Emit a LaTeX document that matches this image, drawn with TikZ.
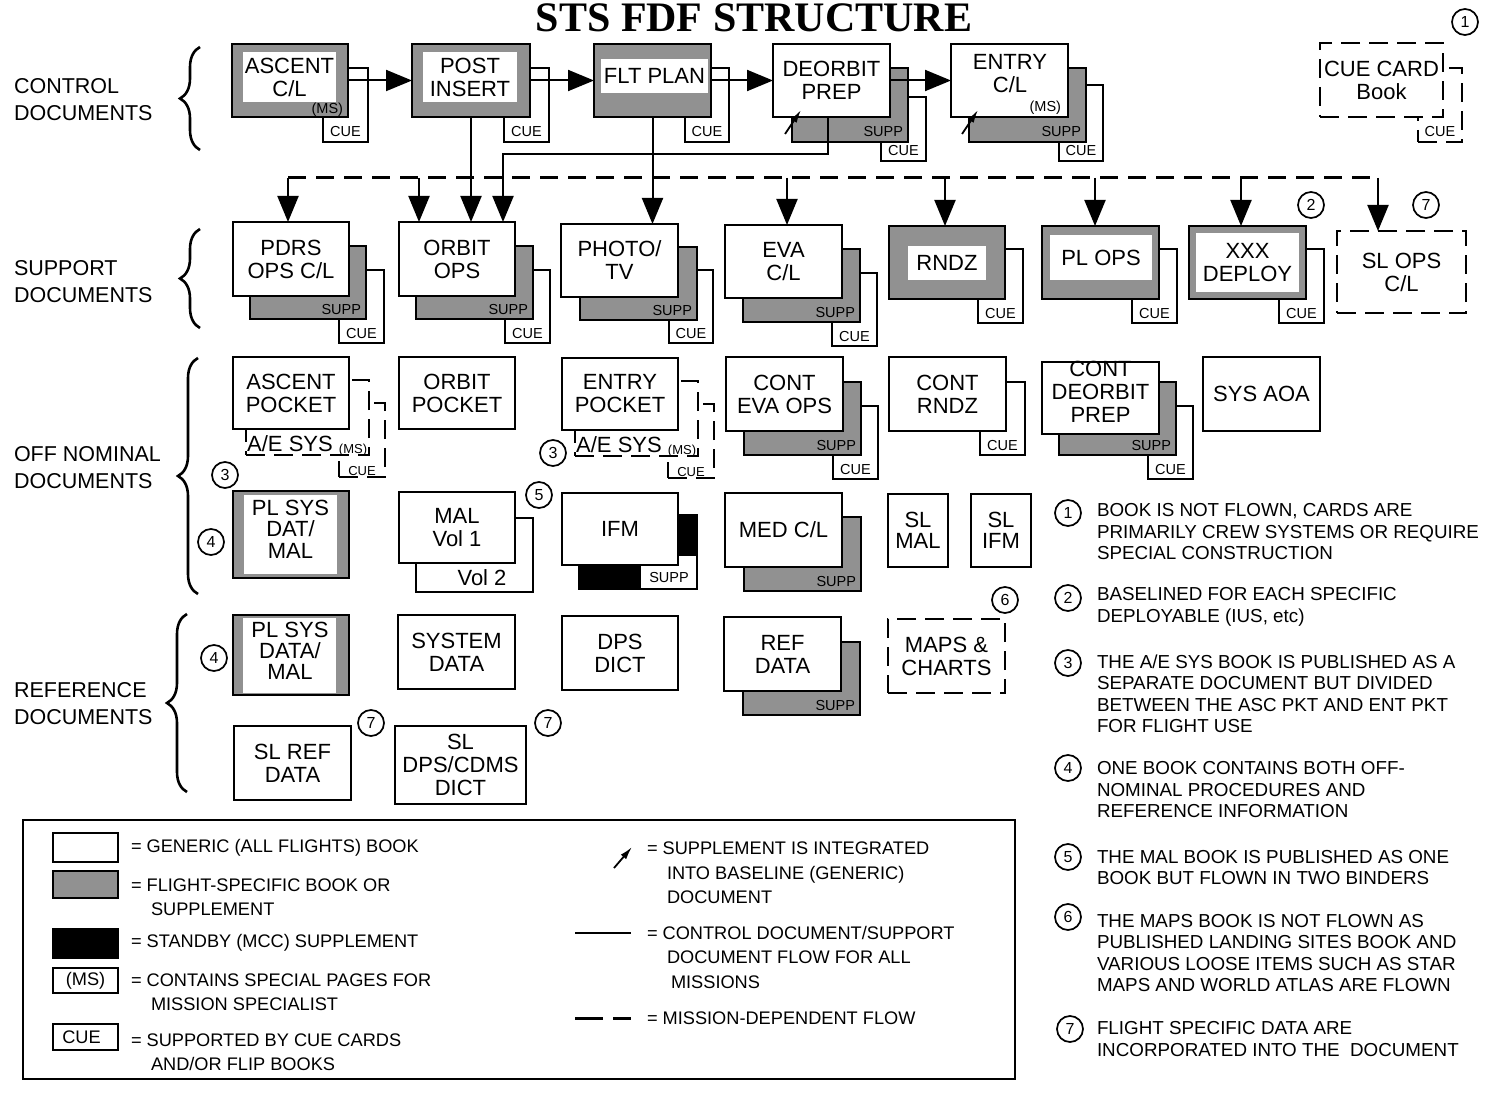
\documentclass[tikz,border=0pt]{standalone}
\usepackage{fontspec}
\setmainfont{Liberation Sans}
\newfontfamily\titlefont{Liberation Serif}
\usetikzlibrary{arrows.meta,decorations.pathreplacing}
\definecolor{fsgray}{gray}{0.57}
\newcommand\mybox[7]{\node[#6,anchor=north west,minimum width={(#4-#2)*1pt},minimum height={(#5-#3)*1pt}] (#1) at (#2,#3) {#7};}
\newcommand\cuelabel[1]{\node[sm,anchor=base] (#1T) at ([yshift=5pt]#1.south) {CUE};}
\newcommand\supplabel[1]{\node[sm,anchor=base east] (#1T) at ([xshift=-5pt,yshift=5pt]#1.south east) {SUPP};}
\begin{document}
\begin{tikzpicture}[x=1pt,y=-1pt,
  every node/.style={inner sep=0pt,outer sep=0pt},
  bt/.style={font=\fontsize{22}{23}\selectfont,align=center},
  bk/.style={draw,line width=2.2pt,fill=white,bt},
  fsb/.style={draw,line width=2.2pt,fill=fsgray},
  inw/.style={fill=white,bt},
  cueb/.style={draw,line width=2pt,fill=white},
  dsh/.style={line width=2.6pt,dash pattern=on 19pt off 9pt},
  dbk/.style={draw,dsh,fill=white,bt},
  dcue/.style={draw,dsh,fill=white},
  blk/.style={draw,line width=2pt,fill=black},
  sm/.style={font=\fontsize{14.5}{15}\selectfont},
  tiny/.style={font=\fontsize{13}{13}\selectfont},
  lab/.style={font=\fontsize{21.5}{27}\selectfont,align=left,anchor=west},
  note/.style={font=\fontsize{18.8}{21.5}\selectfont,align=left,anchor=west},
  leg/.style={font=\fontsize{18.2}{24.5}\selectfont,align=left,anchor=west},
  numc/.style={draw,circle,line width=1.7pt,minimum size=26pt,font=\fontsize{16}{16}\selectfont},
  arr/.style={line width=2pt,-{Triangle[length=26pt,width=21pt]}},
  ln/.style={line width=2pt},
  bus/.style={line width=3pt,dash pattern=on 18pt off 10pt},
  iarr/.style={line width=1.8pt,-{Latex[length=13pt,width=7pt]}},
  brc/.style={decorate,decoration={brace,amplitude=20pt},line width=2.6pt},
]
\fill[white] (0,0) rectangle (1489,1094);
\useasboundingbox (0,0) rectangle (1489,1094);

% title
\node[font=\titlefont\bfseries\fontsize{42}{42}\selectfont,anchor=base] (title) at (754,32) {STS FDF STRUCTURE};

% braces and row labels
\coordinate (brC1) at (200,150); \coordinate (brC2) at (200,47);
\coordinate (brS1) at (200,328); \coordinate (brS2) at (200,229);
\coordinate (brO1) at (198,594); \coordinate (brO2) at (198,358);
\coordinate (brR1) at (187,792); \coordinate (brR2) at (187,614);
\draw[brc] (brC1) -- (brC2);
\draw[brc] (brS1) -- (brS2);
\draw[brc] (brO1) -- (brO2);
\draw[brc] (brR1) -- (brR2);
\node[lab] (lC) at (14,99.5) {CONTROL\\DOCUMENTS};
\node[lab] (lS) at (14,281.5) {SUPPORT\\DOCUMENTS};
\node[lab] (lO) at (14,468) {OFF NOMINAL\\DOCUMENTS};
\node[lab] (lR) at (14,704) {REFERENCE\\DOCUMENTS};

% ---------- control documents
\mybox{ascC}{323}{68}{368}{142}{cueb}{}
\mybox{asc}{232}{44}{348}{117}{fsb}{}
\mybox{ascI}{243}{52}{336}{102}{inw}{ASCENT\\C/L}
\node[sm,anchor=base east] (ascMS) at ([xshift=-5pt,yshift=3pt]asc.south east) {(MS)};
\cuelabel{ascC}

\mybox{piC}{504}{68}{549}{142}{cueb}{}
\mybox{pi}{412}{44}{530}{117}{fsb}{}
\mybox{piI}{423}{52}{517}{102}{inw}{POST\\INSERT}
\cuelabel{piC}

\mybox{fpC}{685}{68}{729}{142}{cueb}{}
\mybox{fp}{594}{44}{711}{117}{fsb}{}
\mybox{fpI}{601}{59}{708}{93}{inw}{FLT PLAN}
\cuelabel{fpC}

\mybox{dpC}{881}{97}{926}{161}{cueb}{}
\mybox{dpS}{792}{68}{908}{142}{fsb}{}
\mybox{dp}{773}{44}{890}{117}{bk}{DEORBIT\\PREP}
\supplabel{dpS}
\cuelabel{dpC}
\coordinate (dpA) at (785,134);
\draw[iarr] (dpA) -- ([xshift=28pt,yshift=7pt]dp.south west);

\mybox{ecC}{1059}{85}{1103}{161}{cueb}{}
\mybox{ecS}{969}{68}{1086}{142}{fsb}{}
\mybox{ec}{951}{44}{1068}{117}{bk}{}
\node[bt] (ecT) at (1010,74) {ENTRY\\C/L};
\node[sm,anchor=base east] (ecMS) at ([xshift=-7pt,yshift=5pt]ec.south east) {(MS)};
\supplabel{ecS}
\cuelabel{ecC}
\coordinate (ecA) at (962,134);
\draw[iarr] (ecA) -- ([xshift=27pt,yshift=7pt]ec.south west);

\mybox{ccC}{1418}{68}{1462}{142}{dcue}{}
\mybox{cc}{1320}{43}{1443}{117}{dbk}{CUE CARD\\Book}
\cuelabel{ccC}
\node[numc] (n1) at (1465,22) {1};

\draw[arr] (asc.east) -- (pi.west);
\draw[arr] (pi.east) -- (fp.west);
\draw[arr] (fp.east) -- (dp.west);
\draw[arr] (dp.east) -- (ec.west);

% ---------- support documents
\mybox{pdC}{339}{270}{384}{343}{cueb}{}
\mybox{pdS}{250}{246}{366}{319}{fsb}{}
\mybox{pd}{233}{222}{349}{296}{bk}{PDRS\\OPS C/L}
\supplabel{pdS}\cuelabel{pdC}

\mybox{ooC}{505}{270}{550}{343}{cueb}{}
\mybox{ooS}{416}{246}{533}{319}{fsb}{}
\mybox{oo}{399}{222}{515}{296}{bk}{ORBIT\\OPS}
\supplabel{ooS}\cuelabel{ooC}

\mybox{phC}{669}{270}{713}{343}{cueb}{}
\mybox{phS}{580}{247}{697}{320}{fsb}{}
\mybox{ph}{561}{224}{678}{297}{bk}{PHOTO/\\TV}
\supplabel{phS}\cuelabel{phC}

\mybox{evC}{832}{273}{877}{346}{cueb}{}
\mybox{evS}{743}{249}{860}{322}{fsb}{}
\mybox{ev}{725}{225}{842}{298}{bk}{EVA\\C/L}
\supplabel{evS}\cuelabel{evC}

\mybox{rnC}{978}{249}{1023}{323}{cueb}{}
\mybox{rn}{889}{226}{1005}{299}{fsb}{}
\mybox{rnI}{908}{246}{986}{280}{inw}{RNDZ}
\cuelabel{rnC}

\mybox{plC}{1132}{249}{1177}{323}{cueb}{}
\mybox{pl}{1042}{226}{1159}{299}{fsb}{}
\mybox{plI}{1050}{235}{1152}{280}{inw}{PL OPS}
\cuelabel{plC}

\mybox{xdC}{1279}{249}{1324}{323}{cueb}{}
\mybox{xd}{1189}{226}{1306}{299}{fsb}{}
\mybox{xdI}{1196}{233}{1299}{292}{inw}{XXX\\DEPLOY}
\cuelabel{xdC}

\mybox{so}{1337}{231}{1466}{313}{dbk}{SL OPS\\C/L}
\node[numc] (n2a) at (1311,205) {2};
\node[numc] (n7a) at (1426,205) {7};

% flows
\draw[arr] (pi.south) -- (pi.south |- oo.north);
\draw[arr] (fp.south) -- (fp.south |- ph.north);
\draw[arr] ([xshift=-4pt]dp.south) -- ++(0,37) -| ([xshift=46pt]oo.north);
\coordinate (b1) at (288,178);
\coordinate (b2) at (419,178);
\coordinate (b3) at (787,178);
\coordinate (b4) at (945,178);
\coordinate (b5) at (1095,178);
\coordinate (b6) at (1241,178);
\coordinate (b7) at (1378,178);
\draw[bus] (b1) -- (b7);
\foreach \b/\t in {b1/pd,b2/oo,b3/ev,b4/rn,b5/pl,b6/xd,b7/so}
  \draw[arr] (\b) -- (\b |- \t.north);

% ---------- off nominal documents
\mybox{apC}{339}{403}{385}{477}{dcue}{}
\mybox{apA}{246}{380}{369}{455}{dcue}{}
\mybox{ap}{233}{357}{349}{429}{bk}{ASCENT\\POCKET}
\node[bt,anchor=base] (apAT) at (290,451) {A/E SYS};
\node[tiny,anchor=base] (apAM) at (353,453) {(MS)};
\node[tiny,anchor=base] (apCT) at (362,475) {CUE};

\mybox{op}{399}{357}{515}{429}{bk}{ORBIT\\POCKET}

\mybox{epC}{668}{404}{714}{478}{dcue}{}
\mybox{epA}{575}{381}{698}{456}{dcue}{}
\mybox{ep}{562}{358}{678}{430}{bk}{ENTRY\\POCKET}
\node[bt,anchor=base] (epAT) at (619,452) {A/E SYS};
\node[tiny,anchor=base] (epAM) at (682,454) {(MS)};
\node[tiny,anchor=base] (epCT) at (691,476) {CUE};
\node[numc] (n3b) at (553,453) {3};

\mybox{ceC}{833}{406}{878}{479}{cueb}{}
\mybox{ceS}{744}{382}{861}{455}{fsb}{}
\mybox{ce}{726}{357}{843}{431}{bk}{CONT\\EVA OPS}
\supplabel{ceS}\cuelabel{ceC}

\mybox{crC}{980}{382}{1025}{455}{cueb}{}
\mybox{cr}{889}{357}{1006}{431}{bk}{CONT\\RNDZ}
\cuelabel{crC}

\mybox{cdC}{1148}{406}{1193}{479}{cueb}{}
\mybox{cdS}{1059}{382}{1176}{455}{fsb}{}
\mybox{cd}{1042}{362}{1159}{434}{bk}{}
\node[bt] (cdT) at (1100.5,392) {CONT\\DEORBIT\\PREP};
\supplabel{cdS}\cuelabel{cdC}

\mybox{sa}{1203}{357}{1320}{431}{bk}{SYS AOA}

\mybox{ps}{233}{491}{349}{578}{fsb}{}
\mybox{psI}{244}{495}{337}{574}{inw}{}
\node[font=\fontsize{22}{21.5}\selectfont,align=center] (psT) at (290.5,529) {PL SYS\\DAT/\\MAL};
\node[numc] (n3a) at (225,475) {3};
\node[numc] (n4a) at (211,542) {4};

\mybox{mv2}{416}{518}{533}{592}{bk}{}
\mybox{mv}{399}{492}{515}{563}{bk}{MAL\\Vol 1}
\node[bt] (mv2T) at (482,578) {Vol 2};
\node[numc] (n5a) at (539,495) {5};

\mybox{ifB}{579}{515}{697}{589}{blk}{}
\fill[white] (641,556) rectangle (696,588);
\node[sm] (ifS) at (669,578) {SUPP};
\mybox{if}{562}{493}{678}{565}{bk}{IFM}

\mybox{mdS}{744}{517}{861}{591}{fsb}{}
\mybox{md}{725}{493}{842}{567}{bk}{MED C/L}
\supplabel{mdS}

\mybox{slm}{888}{494}{948}{567}{bk,font=\fontsize{22}{20.5}\selectfont}{SL\\MAL}
\mybox{sli}{971}{494}{1031}{567}{bk,font=\fontsize{22}{20.5}\selectfont}{SL\\IFM}

% ---------- reference documents
\mybox{pr}{233}{615}{349}{695}{fsb}{}
\mybox{prI}{243}{618}{336}{693}{inw}{}
\node[font=\fontsize{22}{21}\selectfont,align=center] (prT) at (290,651) {PL SYS\\DATA/\\MAL};
\node[numc] (n4b) at (214,658) {4};
\mybox{sd}{398}{615}{515}{689}{bk}{SYSTEM\\DATA}
\mybox{dd}{562}{616}{678}{690}{bk}{DPS\\DICT}
\mybox{rdS}{743}{642}{860}{715}{fsb}{}
\mybox{rd}{724}{617}{841}{691}{bk}{REF\\DATA}
\supplabel{rdS}
\mybox{mc}{888}{619}{1005}{693}{dbk}{MAPS \&\\CHARTS}
\node[numc] (n6a) at (1005,600) {6};
\mybox{sr}{234}{726}{351}{800}{bk}{SL REF\\DATA}
\node[numc] (n7b) at (371,723) {7};
\mybox{sdd}{395}{726}{526}{804}{bk}{SL\\DPS/CDMS\\DICT}
\node[numc] (n7c) at (548,723) {7};

% ---------- legend
\mybox{legend}{23}{820}{1015}{1079}{draw,line width=1.6pt}{}
\mybox{lg1}{53}{833}{118}{862}{bk}{}
\mybox{lg2}{53}{871}{118}{898}{fsb}{}
\mybox{lg3}{53}{929}{118}{958}{blk}{}
\mybox{lg4}{53}{968}{118}{993}{bk,font=\fontsize{18.2}{19}\selectfont}{(MS)}
\mybox{lg5}{53}{1024}{118}{1050}{bk,font=\fontsize{18.2}{19}\selectfont}{CUE\hspace*{8pt}}
\node[leg] (lt1) at (131,848) {= GENERIC (ALL FLIGHTS) BOOK};
\node[leg] (lt2) at (131,897) {= FLIGHT-SPECIFIC BOOK OR\\\hspace*{20pt}SUPPLEMENT};
\node[leg] (lt3) at (131,943) {= STANDBY (MCC) SUPPLEMENT};
\node[leg] (lt4) at (131,992) {= CONTAINS SPECIAL PAGES FOR\\\hspace*{20pt}MISSION SPECIALIST};
\node[leg] (lt5) at (131,1052) {= SUPPORTED BY CUE CARDS\\\hspace*{20pt}AND/OR FLIP BOOKS};
\coordinate (lgA1) at (614,868); \coordinate (lgA2) at (632,847);
\draw[iarr] (lgA1) -- (lgA2);
\node[leg] (lt6) at (647,873) {= SUPPLEMENT IS INTEGRATED\\\hspace*{20pt}INTO BASELINE (GENERIC)\\\hspace*{20pt}DOCUMENT};
\coordinate (lgL1) at (575,933); \coordinate (lgL2) at (631,933);
\draw[ln] (lgL1) -- (lgL2);
\node[leg] (lt7) at (647,957) {= CONTROL DOCUMENT/SUPPORT\\\hspace*{20pt}DOCUMENT FLOW FOR ALL\\\hspace*{24pt}MISSIONS};
\coordinate (lgD1) at (575,1018); \coordinate (lgD2) at (631,1018);
\draw[line width=3pt,dash pattern=on 28pt off 10pt] (lgD1) -- (lgD2);
\node[leg] (lt8) at (647,1018) {= MISSION-DEPENDENT FLOW};

% ---------- notes
\node[numc] (m1) at (1068,513) {1};
\node[note] (t1) at (1097,532) {BOOK IS NOT FLOWN, CARDS ARE\\PRIMARILY CREW SYSTEMS OR REQUIRE\\SPECIAL CONSTRUCTION};
\node[numc] (m2) at (1068,598) {2};
\node[note] (t2) at (1097,607) {BASELINED FOR EACH SPECIFIC\\DEPLOYABLE (IUS, etc)};
\node[numc] (m3) at (1068,663) {3};
\node[note] (t3) at (1097,694) {THE A/E SYS BOOK IS PUBLISHED AS A\\SEPARATE DOCUMENT BUT DIVIDED\\BETWEEN THE ASC PKT AND ENT PKT\\FOR FLIGHT USE};
\node[numc] (m4) at (1068,768) {4};
\node[note] (t4) at (1097,790) {ONE BOOK CONTAINS BOTH OFF-\\NOMINAL PROCEDURES AND\\REFERENCE INFORMATION};
\node[numc] (m5) at (1068,857) {5};
\node[note] (t5) at (1097,867.5) {THE MAL BOOK IS PUBLISHED AS ONE\\BOOK BUT FLOWN IN TWO BINDERS};
\node[numc] (m6) at (1068,917) {6};
\node[note] (t6) at (1097,953) {THE MAPS BOOK IS NOT FLOWN AS\\PUBLISHED LANDING SITES BOOK AND\\VARIOUS LOOSE ITEMS SUCH AS STAR\\MAPS AND WORLD ATLAS ARE FLOWN};
\node[numc] (m7) at (1070,1029) {7};
\node[note] (t7) at (1097,1039) {FLIGHT SPECIFIC DATA ARE\\INCORPORATED INTO THE\ \ DOCUMENT};
\end{tikzpicture}
\end{document}
